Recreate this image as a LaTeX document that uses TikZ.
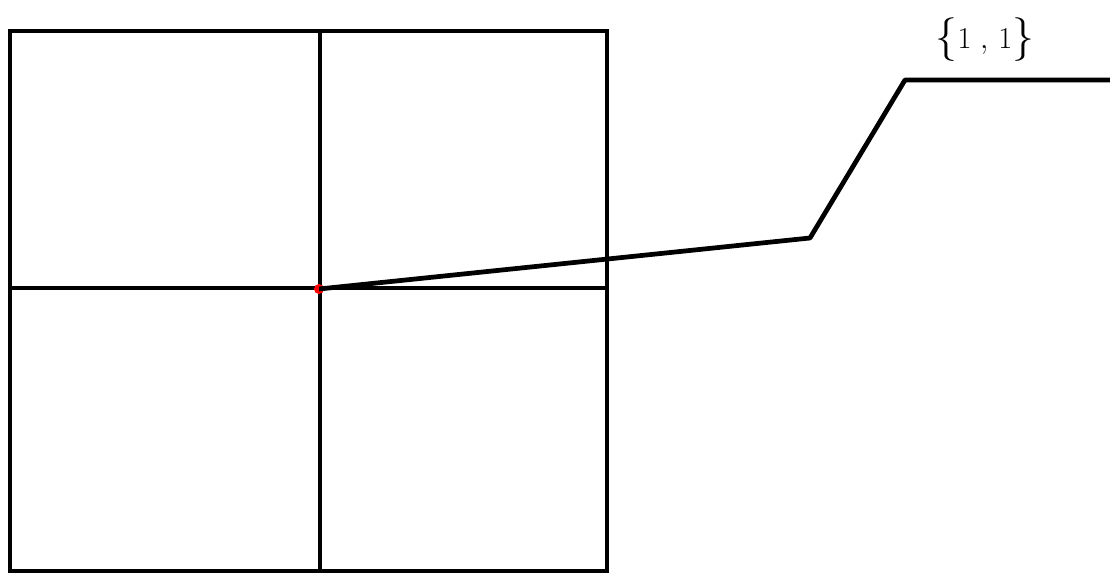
\documentclass[tikz,border=0pt]{standalone}
\usepackage{amssymb,amsmath}
\usepackage{tikz}
\usetikzlibrary{positioning}
\usepackage{xcolor}

\begin{document}
\begin{tikzpicture}[x=0.02cm,y=-0.02cm,line width=2.7pt,
    grid/.style={draw=black,line join=miter},
    leader/.style={draw=black,line join=round},
    point/.style={circle,fill=red,inner sep=0pt,minimum size=0.2cm}]
  \useasboundingbox (0,0) rectangle (1110,573);
  % the square cut into four
  \draw[grid] (10,31) rectangle (607,571);
  \draw[grid] (320,31) -- (320,573);
  \draw[grid] (10,288) -- (607,288);
  \node[point] (P) at (319,289) {};

  % leader to the label
  \coordinate (K1) at (810,238);
  \coordinate (K2) at (905,80);
  \coordinate (K3) at (1110,80);
  \node[inner sep=0pt] (L) at (985,40)
    {\raisebox{-1.5pt}{\fontsize{38}{38}\selectfont$\{$}%
     {\fontsize{17}{20}\selectfont$1\;,\,1$}%
     \raisebox{-1.5pt}{\fontsize{38}{38}\selectfont$\}$}};
  \draw[leader] (P.center) -- (K1) -- (K2) -- (K3);
\end{tikzpicture}
\end{document}
